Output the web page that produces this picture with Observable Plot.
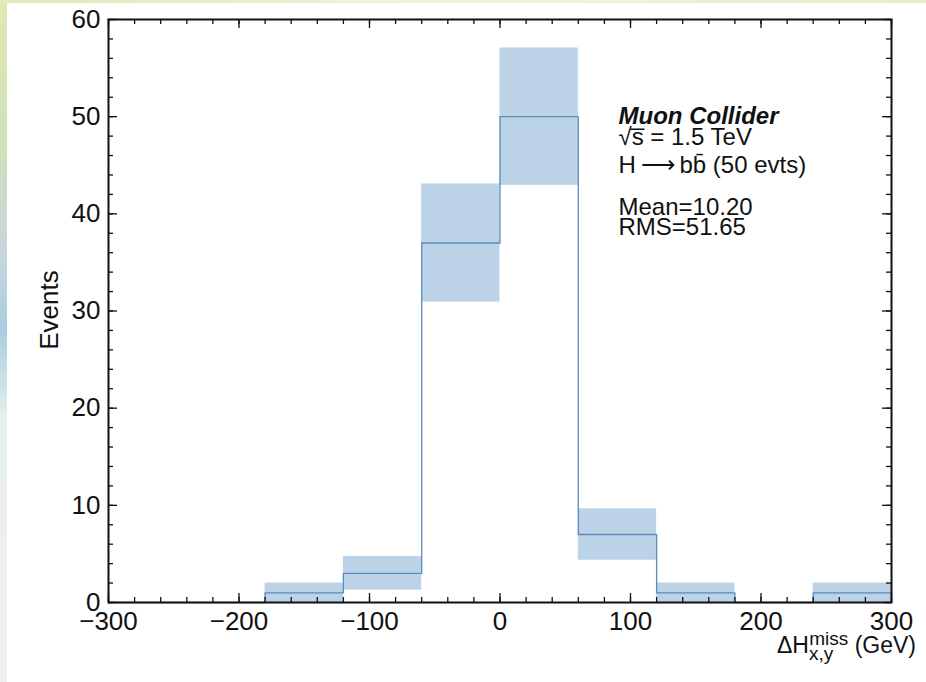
<!DOCTYPE html>
<html><head><meta charset="utf-8">
<script src="https://cdn.jsdelivr.net/npm/d3@7"></script>
<script src="https://cdn.jsdelivr.net/npm/@observablehq/plot@0.6"></script>
<style>
html,body{margin:0;padding:0;width:926px;height:682px;overflow:hidden;}
body{position:relative;font-family:"Liberation Sans",Arial,sans-serif;
 background:linear-gradient(to bottom,#dfe9b0 0px,#cfe0bb 150px,#c7d7dd 250px,#a9cde0 330px,#e6f1ea 420px,#efefef 560px,#efefef 682px);}
#topstrip{position:absolute;left:0;top:0;width:926px;height:4px;background:linear-gradient(to right,#dcebb8,#eef5dc 50%,#e2f0c8);}
#panel{position:absolute;left:7px;top:3px;right:0;bottom:0;background:#fff;}
#chart{position:absolute;left:0;top:0;}
</style></head>
<body><div id="topstrip"></div><div id="panel"></div><div id="chart"></div>
<script>
// ---- data ----
const binEdges = [-300,-240,-180,-120,-60,0,60,120,180,240,300];
const counts   = [0,0,1,3,37,50,7,1,0,1];
const bandLow  = [0,0,0,1.27,30.92,42.93,4.35,0,0,0];
const bandHigh = [0,0,2,4.73,43.08,57.07,9.65,2,0,2];
const xTicks = [-300,-200,-100,0,100,200,300];
const yTicks = [0,10,20,30,40,50,60];
const xMinor = d3.range(-300,301,20);
const yMinor = d3.range(0,61,2);
const annoLines = ["Muon Collider","√s̅ = 1.5 TeV","H\u2009⟶\u2009bb̄ (50 evts)","Mean=10.20","RMS=51.65"];
const yLabel = "Events";

// ---- layout ----
const W=926,H=682,mL=108,mR=35,mT=19,mB=80;
const plotH=H-mT-mB, plotW=W-mL-mR;
const annoDy=[97,118,146,188,208];
const font='"Liberation Sans", Arial, sans-serif';

const bins = binEdges.slice(0,-1).map((x1,i)=>({x1,x2:binEdges[i+1],lo:bandLow[i],hi:bandHigh[i]})).filter(d=>d.hi>d.lo);
const steps = binEdges.map((x,i)=>({x,y:counts[Math.min(i,counts.length-1)]}));

const tickStyle={stroke:"#111",strokeWidth:1.3};
const chart = Plot.plot({
  width:W,height:H,marginLeft:mL,marginRight:mR,marginTop:mT,marginBottom:mB,
  style:{background:"transparent",fontFamily:font,fontSize:"26px",color:"#111"},
  x:{domain:[-300,300],label:null},
  y:{domain:[0,60],label:null},
  marks:[
    Plot.rectY(bins,{x1:"x1",x2:"x2",y1:"lo",y2:"hi",fill:"#bcd3e7"}),
    Plot.lineY(steps,{x:"x",y:"y",curve:"step-after",stroke:"#5a8bbf",strokeWidth:1.3}),
    Plot.ruleX(xMinor,{...tickStyle,insetTop:plotH-5}),
    Plot.ruleX(xMinor,{...tickStyle,insetBottom:plotH-5}),
    Plot.ruleX(xTicks,{...tickStyle,insetTop:plotH-9}),
    Plot.ruleX(xTicks,{...tickStyle,insetBottom:plotH-9}),
    Plot.ruleY(yMinor,{...tickStyle,insetRight:plotW-5}),
    Plot.ruleY(yMinor,{...tickStyle,insetLeft:plotW-5}),
    Plot.ruleY(yTicks,{...tickStyle,insetRight:plotW-9}),
    Plot.ruleY(yTicks,{...tickStyle,insetLeft:plotW-9}),
    Plot.axisX(xTicks,{tickSize:0,tickPadding:9,tickFormat:d3.format("d"),fontSize:26,label:null}),
    Plot.axisY(yTicks,{tickSize:0,tickPadding:8,tickFormat:d3.format("d"),fontSize:26,label:null}),
    Plot.frame({stroke:"#111",strokeWidth:2}),
    ...annoLines.map((t,i)=>Plot.text([t],{frameAnchor:"top-left",dx:510,dy:annoDy[i],
      textAnchor:"start",lineAnchor:"middle",fontSize:24,fill:"#111",
      fontWeight:i===0?"bold":"normal",fontStyle:i===0?"italic":"normal"}))
  ]
});
document.getElementById("chart").appendChild(chart);

const svg = d3.select(chart);
// y label
svg.append("text").attr("transform","translate(49,310) rotate(-90)")
  .attr("text-anchor","middle").attr("dy","0.35em")
  .attr("font-family",font).attr("font-size",26).attr("fill","#111").text(yLabel);
// x label with sub/superscript
const xl = svg.append("text").attr("x",916).attr("y",653).attr("text-anchor","end")
  .attr("font-family",font).attr("font-size",23).attr("fill","#111");
xl.append("tspan").text("ΔH");
xl.append("tspan").attr("font-size",19).attr("dy",7).text("x,y");
xl.append("tspan").attr("font-size",19).attr("dx",-24).attr("dy",-15).text("miss");
xl.append("tspan").attr("dy",8).text(" (GeV)");
</script>
</body></html>
